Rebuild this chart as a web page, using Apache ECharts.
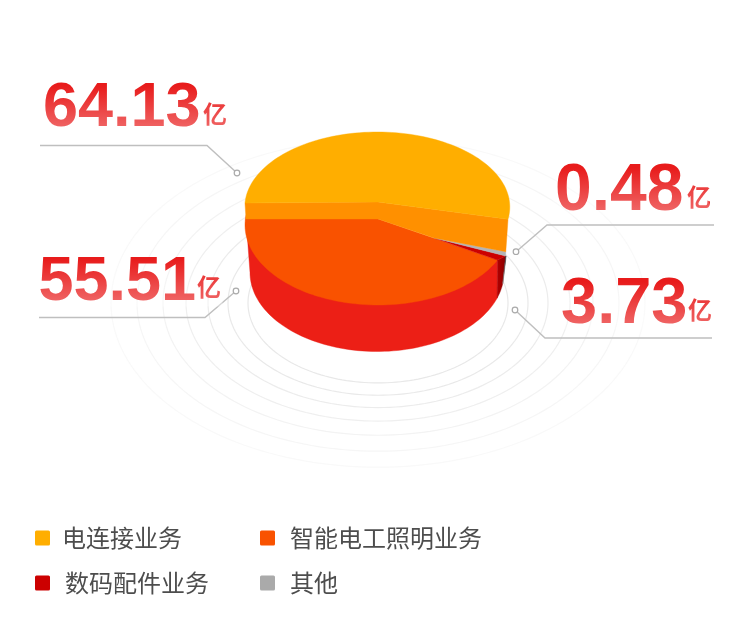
<!DOCTYPE html>
<html>
<head>
<meta charset="utf-8">
<script src="https://cdn.jsdelivr.net/npm/echarts@6/dist/echarts.min.js"></script>
<style>html,body{margin:0;padding:0;background:#fff}#c{width:755px;height:623px}</style>
</head>
<body>
<div id="c"></div>
<script>
const categories = ['电连接业务', '智能电工照明业务', '数码配件业务', '其他'];
const values = [64.13, 55.51, 3.73, 0.48];
const valueLabels = ['64.13', '55.51', '3.73', '0.48'];
const unit = '亿';
const legendColors = ['#ffae00', '#f95200', '#cc0000', '#aaaaaa'];
const ringRadii = [130, 150, 170, 192, 215, 241, 267];

const total = values.reduce((a, b) => a + b, 0);
const sweep = v => v / total * 360;
const rad = d => d * Math.PI / 180;
const pt = (e, a) => [e.cx + e.rx * Math.cos(rad(a)), e.cy + e.ry * Math.sin(rad(a))];
function arc(e, a0, a1) {
  const n = Math.max(2, Math.ceil(Math.abs(a1 - a0) / 2)), out = [];
  for (let i = 0; i <= n; i++) out.push(pt(e, a0 + (a1 - a0) * i / n));
  return out;
}
const poly = (points, fill) => ({ type: 'polygon', shape: { points }, style: { fill, stroke: fill, lineWidth: 0.4 } });

/* pie geometry: a stepped slab seen in perspective */
const topEll = { cx: 377.3, cy: 207, rx: 132.5, ry: 75 };
const midEll = { cx: 378, cy: 225, rx: 133, ry: 80 };
const botEll = { cx: 377, cy: 272.5, rx: 127, ry: 79 };
const topApex = [378, 202];
const midApex = [378, 219];
const sliverApex = [434, 238];
const topStart = 183;
const midStart = 26;
const wallLeftFoot = [246, 219];
const wallRightFoot = [505.8, 251.7];
const grayRimEnd = [505.6, 256];

const topEnd = topStart + sweep(values[0]);
const topTip = pt(topEll, topEnd);
const midTip = pt(midEll, midStart);
const wallA = midStart - 7;
const wallB = wallA - sweep(values[2]);
const wallC = wallB - sweep(values[3]);

const renderers = {
  '智能电工照明业务': () => [
    poly([wallLeftFoot, [250, 272.5]].concat(arc(botEll, 180, wallA), [midTip]), '#ec1f16'),
    poly([midApex].concat(arc(midEll, midStart, midStart + sweep(values[1]))), '#f95200')
  ],
  '数码配件业务': () => [
    poly([midTip, grayRimEnd].concat(arc(botEll, wallB, wallA)), new echarts.graphic.LinearGradient(1, 0, 0, 0, [{ offset: 0, color: '#8a0000' }, { offset: 1, color: '#b30000' }])),
    poly([sliverApex, grayRimEnd, midTip], '#cc0000')
  ],
  '其他': () => [
    poly([grayRimEnd, [506.2, 256]].concat(arc(botEll, wallC, wallB)), new echarts.graphic.LinearGradient(0, 0, 0, 1, [{ offset: 0, color: '#333333' }, { offset: 1, color: '#8c8c8c' }])),
    poly([sliverApex, wallRightFoot, grayRimEnd], '#b4b4b4')
  ],
  '电连接业务': () => [
    poly([pt(topEll, topStart), topApex, topTip, wallRightFoot, sliverApex, midApex, wallLeftFoot], '#ff9000'),
    poly([topApex].concat(arc(topEll, topStart, topEnd)), '#ffae00')
  ]
};

/* leader lines and labels, in the order of valueLabels */
const labelLayout = [
  { line: [[40, 145.5], [207, 145.5], [237, 173]], num: [43, 109], unit: [203, 113.5], size: 63 },
  { line: [[39, 317.5], [205, 317.5], [236, 291]], num: [38.5, 282.5], unit: [197, 286.5], size: 63 },
  { line: [[712, 338], [545, 338], [515, 310]], num: [561, 305.5], unit: [688, 309.5], size: 65 },
  { line: [[714, 225], [547, 225], [516, 251.7]], num: [555, 191.5], unit: [687, 196.5], size: 66 }
];
/* the digits fade from deep red to light red: a white veil, growing downward, over solid text */
const fadeBand = (x, y, w, h) => ({
  type: 'rect', shape: { x, y, width: w, height: h },
  style: {
    fill: new echarts.graphic.LinearGradient(0, 0, 0, 1, [
      { offset: 0, color: 'rgba(255,255,255,0)' },
      { offset: 1, color: 'rgba(255,255,255,0.36)' }
    ])
  }
});

const ringSeries = {
  type: 'custom', name: 'rings', coordinateSystem: 'none', silent: true, z: 1,
  data: ringRadii.map(r => [r]),
  renderItem(params, api) {
    const r = api.value(0), i = params.dataIndex;
    const e = { cx: 378, cy: 303, rx: r, ry: r * 0.615 };
    const shades = ['#e8e8e8', '#e9e9e9', '#ececec', '#efefef', '#f3f3f3', '#f6f6f6', '#f9f9f9'];
    return { type: 'polyline', shape: { points: arc(e, 0, 360) }, style: { fill: 'none', stroke: shades[i], lineWidth: 1.2 } };
  }
};

const drawOrder = [1, 2, 3, 0];
const pieSeries = drawOrder.map((idx, k) => ({
  type: 'custom', name: categories[idx], coordinateSystem: 'none', silent: true, z: 2 + k,
  itemStyle: { color: legendColors[idx] },
  data: [[values[idx]]],
  renderItem() { return { type: 'group', children: renderers[categories[idx]]() }; }
}));

const labelSeries = {
  type: 'custom', name: 'labels', coordinateSystem: 'none', silent: true, z: 10,
  data: valueLabels.map((t, i) => [i]),
  renderItem(params) {
    const i = params.dataIndex, l = labelLayout[i];
    const solid = '#e81b1b';
    return {
      type: 'group',
      children: [
        { type: 'polyline', shape: { points: l.line }, style: { fill: 'none', stroke: '#bfbfbf', lineWidth: 1.4 } },
        { type: 'circle', shape: { cx: l.line[2][0], cy: l.line[2][1], r: 2.8 }, style: { fill: '#fff', stroke: '#aaaaaa', lineWidth: 1.2 } },
        { type: 'text', style: { text: valueLabels[i], x: l.num[0], y: l.num[1], font: 'bold ' + l.size + 'px "Liberation Sans", Arial, sans-serif', verticalAlign: 'middle', align: 'left', fill: solid } },
        { type: 'text', style: { text: unit, x: l.unit[0], y: l.unit[1], font: 'bold 24px "Noto Sans CJK SC", sans-serif', verticalAlign: 'middle', align: 'left', fill: solid } },
        fadeBand(l.num[0] - 2, l.num[1] - 24, (i < 2 ? 186 : 156), 48)
      ]
    };
  }
};

const legendIcon = 'path://M1.5,0H13.5Q15,0 15,1.5V13.5Q15,15 13.5,15H1.5Q0,15 0,13.5V1.5Q0,0 1.5,0Z';
const legendPos = [[35, 523], [260, 523], [35, 568], [260, 568]];
const legendTextGap = [7, 10, 10, 10];
const legends = categories.map((name, i) => ({
  data: [name], left: legendPos[i][0], top: legendPos[i][1], padding: 0,
  icon: legendIcon, itemWidth: 15, itemHeight: 15, itemGap: 0, selectedMode: false,
  textStyle: { fontSize: 24, color: '#4d4d4d', fontFamily: '"Noto Sans CJK SC", sans-serif', padding: [0, 0, 4, legendTextGap[i]], lineHeight: 26 }
}));

const chart = echarts.init(document.getElementById('c'), null, { renderer: 'canvas' });
chart.setOption({
  animation: false,
  backgroundColor: '#ffffff',
  legend: legends,
  series: [ringSeries].concat(pieSeries, [labelSeries])
});
</script>
</body>
</html>
